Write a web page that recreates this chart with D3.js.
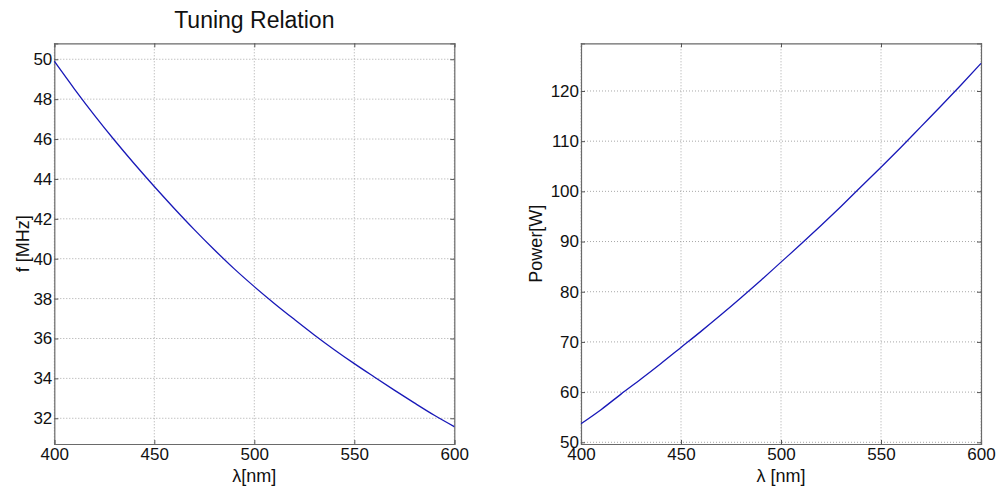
<!DOCTYPE html>
<html>
<head>
<meta charset="utf-8">
<script src="https://cdn.jsdelivr.net/npm/d3@7"></script>
<style>
body{margin:0;background:#fff}
svg{display:block}
text{font-family:"Liberation Sans",Arial,sans-serif;fill:#111}
</style>
</head>
<body>
<div id="chart"></div>
<script>
// wavelength samples [nm]
var lambda=[400,410,420,430,440,450,460,470,480,490,500,510,520,530,540,550,560,570,580,590,600];
// tuning frequency [MHz]
var freq=[49.90,48.52,47.20,45.95,44.76,43.62,42.52,41.46,40.45,39.49,38.60,37.76,36.96,36.18,35.44,34.74,34.07,33.41,32.77,32.15,31.58];
// rf power [W]
var power=[53.7,56.5,59.6,62.6,65.7,68.9,72.1,75.4,78.8,82.3,85.9,89.5,93.2,97.0,100.9,104.8,108.8,112.9,117.0,121.2,125.5];

var xTicks=[400,450,500,550,600];
var fTicks=[32,34,36,38,40,42,44,46,48,50];
var pTicks=[50,60,70,80,90,100,110,120];

var W=999,H=487;
var svg=d3.select('#chart').append('svg').attr('width',W).attr('height',H);

function panel(x0,x1,ydom,yvals,yticks,xlab,ylab,ylabX,title){
    var top=43.3,bottom=444;
    var x=d3.scaleLinear().domain([400,600]).range([x0,x1]);
    var y=d3.scaleLinear().domain(ydom).range([bottom,top]);
    var g=svg.append('g');

    // grid
    g.selectAll('.vg').data(xTicks).enter().append('line')
        .attr('x1',d=>x(d)).attr('x2',d=>x(d)).attr('y1',top).attr('y2',bottom)
        .attr('stroke','#a8a8a8').attr('stroke-width',1).attr('stroke-dasharray','1,2');
    g.selectAll('.hg').data(yticks).enter().append('line')
        .attr('x1',x0).attr('x2',x1).attr('y1',d=>y(d)).attr('y2',d=>y(d))
        .attr('stroke','#a8a8a8').attr('stroke-width',1).attr('stroke-dasharray','1,2');

    // axes (ticks inward, box)
    var xa=g.append('g').attr('transform','translate(0,'+bottom+')')
        .call(d3.axisBottom(x).tickValues(xTicks).tickSize(-4).tickPadding(4));
    var xt=g.append('g').attr('transform','translate(0,'+top+')')
        .call(d3.axisTop(x).tickValues(xTicks).tickSize(-4).tickFormat(''));
    var ya=g.append('g').attr('transform','translate('+x0+',0)')
        .call(d3.axisLeft(y).tickValues(yticks).tickSize(-4).tickPadding(2));
    var yr=g.append('g').attr('transform','translate('+x1+',0)')
        .call(d3.axisRight(y).tickValues(yticks).tickSize(-4).tickFormat(''));
    [xa,xt,ya,yr].forEach(function(a){
        a.select('.domain').attr('stroke','#6a6a6a').attr('stroke-width',1.2);
        a.selectAll('.tick line').attr('stroke','#555');
        a.selectAll('text').style('font-size','17px').style('font-family','"Liberation Sans",Arial,sans-serif').attr('fill','#111');
    });

    // curve
    var line=d3.line().x((d,i)=>x(lambda[i])).y(d=>y(d)).curve(d3.curveMonotoneX);
    g.append('path').datum(yvals).attr('d',line)
        .attr('fill','none').attr('stroke','#1818b8').attr('stroke-width',1.3);

    g.append('text').attr('x',(x0+x1)/2).attr('y',482).attr('text-anchor','middle')
        .style('font-size','18px').text(xlab);
    g.append('text').attr('transform','translate('+ylabX+','+((top+bottom)/2)+') rotate(-90)')
        .attr('text-anchor','middle').style('font-size','18px').text(ylab);
    if(title){
        g.append('text').attr('x',(x0+x1)/2).attr('y',28).attr('text-anchor','middle')
            .style('font-size','23px').text(title);
    }
}

panel(54.3,454.3,[30.71,50.80],freq,fTicks,'\u03bb[nm]','f [MHz]',29,'Tuning Relation');
panel(581,981,[49.66,129.5],power,pTicks,'\u03bb [nm]','Power[W]',542,null);
</script>
</body>
</html>
